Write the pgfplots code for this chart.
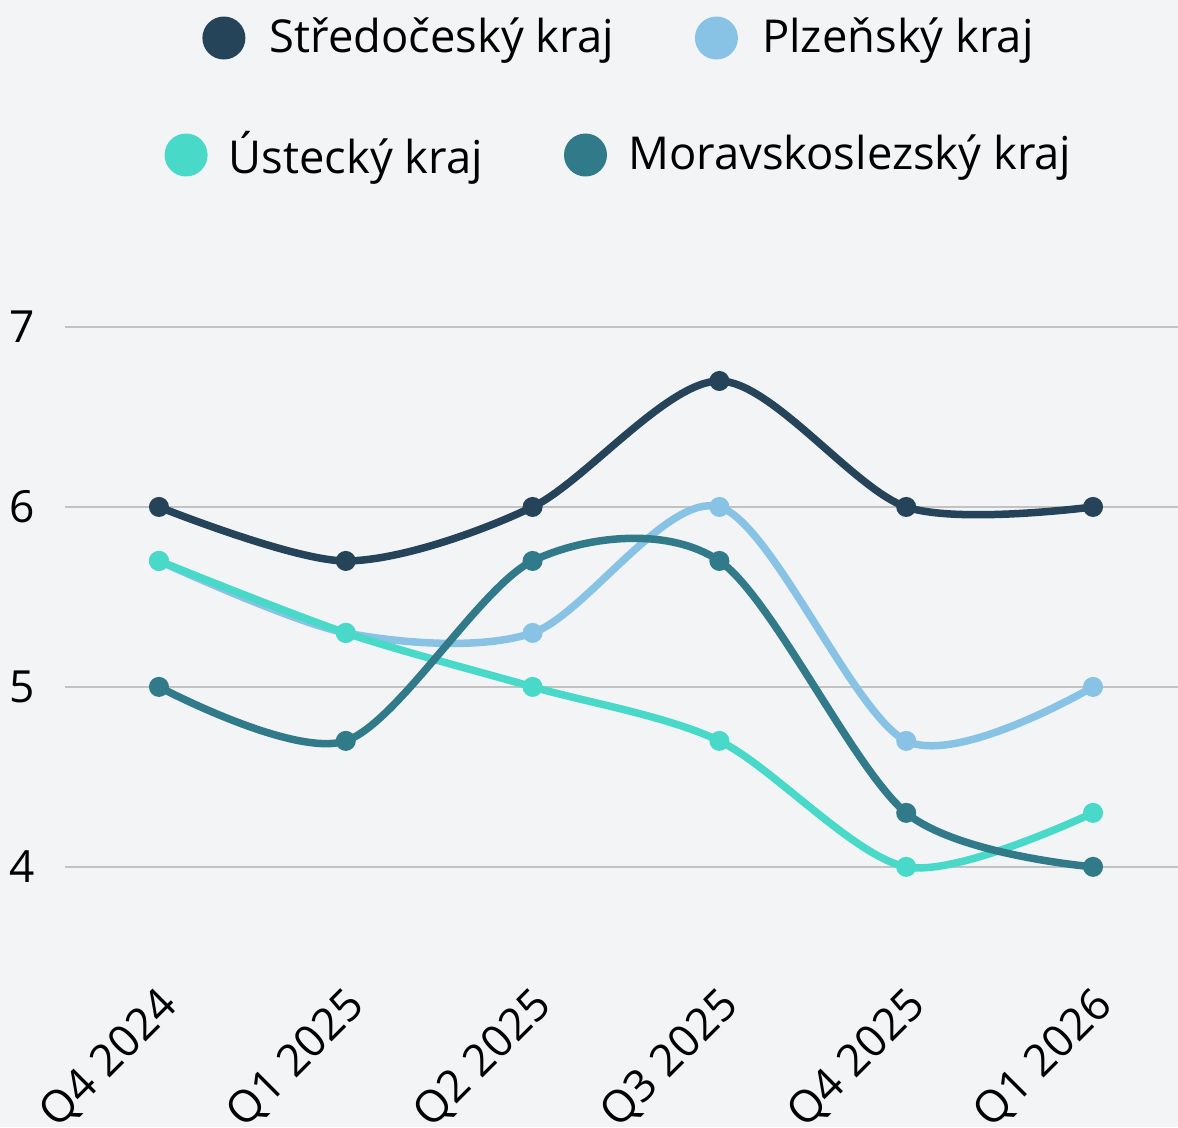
\documentclass[border=0pt]{standalone}
\usepackage{pgfplots}
\pgfplotsset{compat=1.18}
\usepackage{fontspec}
\setmainfont{Open Sans}
\usetikzlibrary{backgrounds}

\definecolor{bgc}{HTML}{F3F4F6}
\definecolor{str}{HTML}{254359}
\definecolor{plz}{HTML}{88C3E6}
\definecolor{ust}{HTML}{48D9C9}
\definecolor{mor}{HTML}{317A89}
\definecolor{gridc}{HTML}{C2C2C2}

\pgfplotsset{
  base/.style={
    width=111.3mm, height=70.9mm, scale only axis,
    xmin=-0.503, xmax=5.455, ymin=3.26, ymax=7.2,
    legend columns=-1,
    legend style={at={(0.5,1)}, anchor=center, draw=none, fill=none,
      font=\fontsize{12.9}{15}\selectfont,
      /tikz/every even column/.append style={column sep=7.4mm}},
    legend image code/.code={\fill[##1,draw=none] (0.15cm,0cm) circle (2.15mm); \path (0.5cm,0cm);},
  },
}

\begin{document}
\begin{tikzpicture}
\begin{axis}[
    base, name=main,
    xtick={0,1,2,3,4,5},
    xticklabels={Q4 2024, Q1 2025, Q2 2025, Q3 2025, Q4 2025, Q1 2026},
    ytick={4,5,6,7},
    ymajorgrids,
    major grid style={gridc, line width=0.2mm},
    axis line style={draw=none},
    major tick length=0pt,
    tick label style={font=\fontsize{12.6}{15}\selectfont},
    /pgf/number format/assume math mode=true,
    xticklabel style={xshift=2.1mm, yshift=1.0mm, rotate=45, anchor=east},
    yticklabel style={xshift=-1.8mm},
    every axis plot/.append style={line width=0.75mm, smooth, mark=*, mark size=0.9mm,
      mark options={solid, line width=0.2mm}},
    legend style={yshift=25.3mm},
    clip=false,
]
\addplot[color=str] coordinates {(0,6) (1,5.7) (2,6) (3,6.7) (4,6) (5,6)};
\addlegendentry{Středočeský kraj}
\addplot[color=plz] coordinates {(0,5.7) (1,5.3) (2,5.3) (3,6) (4,4.7) (5,5)};
\addlegendentry{Plzeňský kraj}
\addplot[color=ust] coordinates {(0,5.7) (1,5.3) (2,5) (3,4.7) (4,4) (5,4.3)};
\addplot[color=mor] coordinates {(0,5) (1,4.7) (2,5.7) (3,5.7) (4,4.3) (5,4)};
\end{axis}
\begin{axis}[
    base, at={(main.south west)}, anchor=south west,
    hide axis,
    legend style={yshift=13.6mm},
]
\addlegendimage{color=ust}
\addlegendentry{Ústecký kraj}
\addlegendimage{color=mor}
\addlegendentry{Moravskoslezský kraj}
\end{axis}
\pgfresetboundingbox
\begin{pgfonlayer}{background}
\fill[bgc] ([xshift=-6.5mm,yshift=-12.7mm]main.south west) rectangle ([yshift=29.1mm]main.north east);
\end{pgfonlayer}
\end{tikzpicture}
\end{document}
